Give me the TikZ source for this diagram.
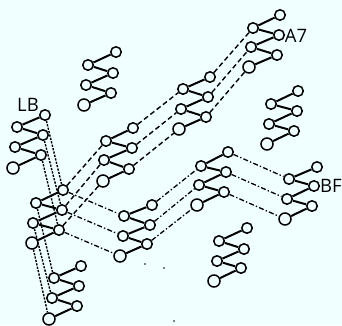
\documentclass[tikz,border=0pt]{standalone}
\usepackage{fontspec}
\setmainfont{Open Sans}
\definecolor{paper}{HTML}{F0FFFF}
\tikzset{
  atomnode/.style={circle,draw=black,fill=paper,line width=1.5pt,inner sep=0pt,minimum size=10.5pt},
  bignode/.style={atomnode,minimum size=12pt},
  rung/.style={line width=2pt,black},
  linkdash/.style={line width=1.4pt,black,dash pattern=on 5pt off 3pt},
  linkdot/.style={line width=1.4pt,black,dash pattern=on 2.2pt off 1.3pt},
  linkchain/.style={line width=1.3pt,black,dash pattern=on 5pt off 2.2pt on 1.4pt off 2.2pt},
  tag/.style={font=\fontsize{18.5}{19}\selectfont,inner sep=0pt,text=black},
  speck/.style={circle,fill=black,inner sep=0pt,minimum size=1.8pt}
}
\newcommand{\ladder}[7]{%
  \node[atomnode] (#11) at (#2) {};
  \node[atomnode] (#12) at (#3) {};
  \node[atomnode] (#13) at (#4) {};
  \node[atomnode] (#14) at (#5) {};
  \node[atomnode] (#15) at (#6) {};
  \node[bignode] (#16) at (#7) {};
  \draw[rung] (#11)--(#12) (#12)--(#13) (#13)--(#14) (#14)--(#15) (#15)--(#16);
}
\begin{document}
\begin{tikzpicture}[x=1pt,y=-1pt]
\useasboundingbox[fill=paper] (0,0) rectangle (342,325);
\ladder{a}{116,52}{88,65}{113,73}{86,85}{111,93}{84,105}
\ladder{b}{45,115}{17,127}{43,135}{15,147}{41,155}{13,168}
\ladder{c}{63,190}{36,203}{62,210}{33,223}{59,230}{32,243}
\ladder{d}{81,266}{54,278}{79,286}{52,298}{77,306}{49,319}
\ladder{e}{133,128}{106,141}{132,148}{104,160}{129,169}{103,181}
\ladder{f}{210,77}{183,89}{208,97}{181,109}{206,117}{179,129}
\ladder{g}{280,15}{253,28}{279,35}{251,47}{277,55}{249,67}
\ladder{h}{298,91}{271,104}{297,111}{269,124}{294,131}{267,144}
\ladder{i}{152,205}{124,216}{150,225}{123,236}{147,244}{120,256}
\ladder{j}{228,152}{201,166}{226,172}{199,185}{224,192}{197,205}
\ladder{k}{317,167}{289,179}{314,186}{287,199}{312,206}{285,219}
\ladder{m}{247,228}{219,241}{244,249}{217,261}{241,268}{214,281}
\draw[linkdot] (b1)--(c1) (b3)--(c3) (b5)--(c5);
\draw[linkdot] (c2)--(d2) (c4)--(d4) (c6)--(d6);
\draw[linkdash] (c1)--(e2) (c3)--(e4) (c5)--(e6);
\draw[linkdash] (e1)--(f2) (e3)--(f4) (e5)--(f6);
\draw[linkdash] (f1)--(g2) (f3)--(g4) (f5)--(g6);
\draw[linkchain] (c1)--(i2) (c3)--(i4) (c5)--(i6);
\draw[linkchain] (i1)--(j2) (i3)--(j4) (i5)--(j6);
\draw[linkchain] (j1)--(k2) (j3)--(k4) (j5)--(k6);
\node[tag] (lb) at (28,105) {LB};
\node[tag] (a7) at (296,36) {A7};
\node[tag] (bf) at (331,186) {BF};
\node[speck] (s1) at (145,264) {};
\node[speck] (s2) at (164,268) {};
\node[speck] (s3) at (174,321) {};
\end{tikzpicture}
\end{document}
